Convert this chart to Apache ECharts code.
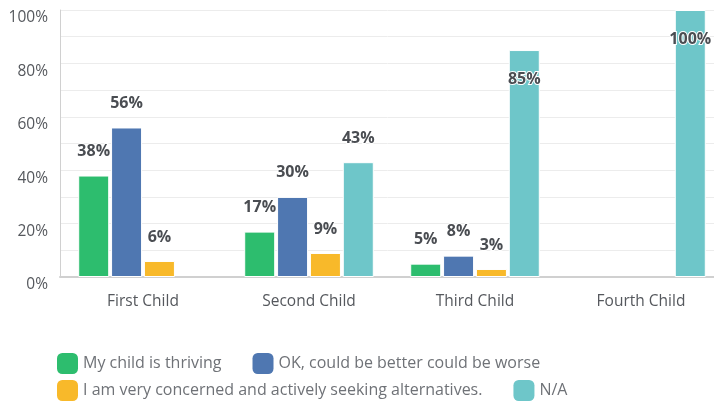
<!DOCTYPE html>
<html><head><meta charset="utf-8">
<script src="https://cdn.jsdelivr.net/npm/echarts@6/dist/echarts.min.js"></script>
<style>html,body{margin:0;padding:0;background:#fff}#c{width:714px;height:403px}</style>
</head><body><div id="c"></div>
<script>
var categories = ['First Child', 'Second Child', 'Third Child', 'Fourth Child'];
var seriesNames = ['My child is thriving', 'OK, could be better could be worse', 'I am very concerned and actively seeking alternatives.', 'N/A'];
var thriving = [38, 17, 5, null];
var okay = [56, 30, 8, null];
var concerned = [6, 9, 3, null];
var na = [null, 43, 85, 100];
var yTicks = [0, 20, 40, 60, 80, 100];
var colors = ['#2dbd6e', '#4f77b1', '#f8b92a', '#6ec6c9'];

var font = 'Open Sans';
function mk(name, vals, color) {
  return {
    name: name, type: 'bar', barWidth: 31, barGap: '6%',
    itemStyle: { color: color, borderColor: '#fff', borderWidth: 1 },
    data: vals.map(function (v) {
      if (v === null) return null;
      var big = v >= 80;
      return {
        value: v,
        label: big ? { position: 'insideTop', distance: 21 } : { position: 'top', distance: 16 }
      };
    }),
    label: {
      show: true, formatter: '{c}%', color: '#4a4d52', fontSize: 16, fontWeight: 'bold',
      fontFamily: font, textBorderColor: '#fff', textBorderWidth: 2
    }
  };
}
var legendText = { color: '#6f7277', fontSize: 16, fontFamily: font };
var legendCommon = { left: 57, padding: 0, itemWidth: 21, itemHeight: 21, itemGap: 31, icon: 'roundRect',
  itemStyle: { borderWidth: 0 }, textStyle: legendText, selectedMode: false };
var chart = echarts.init(document.getElementById('c'));
chart.setOption({
  animation: false,
  grid: { left: 60, width: 664, top: 10, bottom: 126, outerBoundsMode: 'none', containLabel: false },
  legend: [
    Object.assign({ data: [seriesNames[0], seriesNames[1]], top: 353 }, legendCommon),
    Object.assign({ data: [seriesNames[2], seriesNames[3]], top: 380 }, legendCommon)
  ],
  xAxis: {
    type: 'category', data: categories,
    axisLine: { lineStyle: { color: '#d0d0d0', width: 2 } },
    axisTick: { show: false },
    axisLabel: { color: '#55585d', fontSize: 15.5, fontFamily: font, margin: 17 }
  },
  yAxis: {
    type: 'value', min: 0, max: 100, interval: 10,
    axisLine: { show: true, lineStyle: { color: '#d0d0d0', width: 1 } },
    axisTick: { show: false },
    splitLine: { lineStyle: { color: '#ececec' } },
    axisLabel: {
      color: '#55585d', fontSize: 15.5, fontFamily: font, margin: 12, verticalAlign: 'top',
      formatter: function (v) { return yTicks.indexOf(v) >= 0 ? v + '%' : ''; }
    }
  },
  series: [mk(seriesNames[0], thriving, colors[0]), mk(seriesNames[1], okay, colors[1]),
           mk(seriesNames[2], concerned, colors[2]), mk(seriesNames[3], na, colors[3])]
});
</script></body></html>
